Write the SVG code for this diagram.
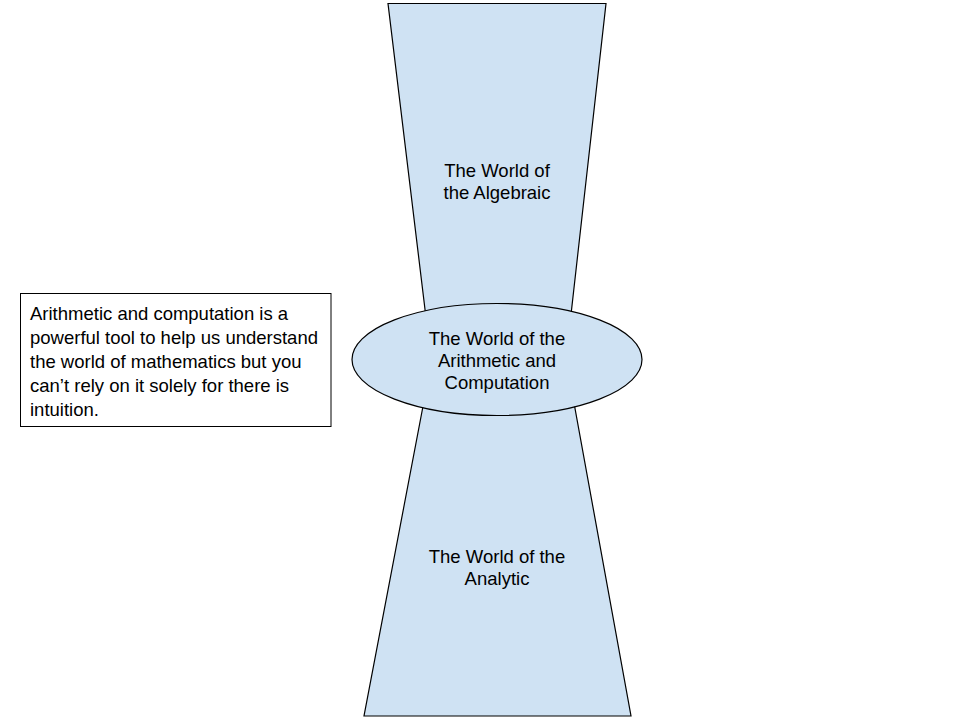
<svg xmlns="http://www.w3.org/2000/svg" width="960" height="720" viewBox="0 0 960 720">
<style>
.shape{fill:#cfe2f3;stroke:#000;stroke-width:1.2}
.t{font-family:"Liberation Sans",Arial,sans-serif;font-size:18.5px;fill:#000}
.c{text-anchor:middle}
</style>
<rect width="960" height="720" fill="#fff"/>
<g id="algebraic">
<polygon class="shape" points="388,3.5 606,3.5 566,359 431,359"/>
<text class="t c" x="497" y="177">The World of</text>
<text class="t c" x="497" y="199">the Algebraic</text>
</g>
<g id="analytic">
<polygon class="shape" points="432,359 566,359 631,716 364,716"/>
<text class="t c" x="497" y="563">The World of the</text>
<text class="t c" x="497" y="585">Analytic</text>
</g>
<g id="arithmetic">
<ellipse class="shape" cx="497" cy="359.5" rx="145" ry="56"/>
<text class="t c" x="497" y="345">The World of the</text>
<text class="t c" x="497" y="367">Arithmetic and</text>
<text class="t c" x="497" y="389">Computation</text>
</g>
<g id="note">
<rect x="20.5" y="293.5" width="310.5" height="133" fill="#fff" stroke="#000" stroke-width="1"/>
<text class="t" x="30" y="320">Arithmetic and computation is a</text>
<text class="t" x="30" y="344">powerful tool to help us understand</text>
<text class="t" x="30" y="368">the world of mathematics but you</text>
<text class="t" x="30" y="392">can’t rely on it solely for there is</text>
<text class="t" x="30" y="416">intuition.</text>
</g>
<g id="connectors"/>
</svg>
